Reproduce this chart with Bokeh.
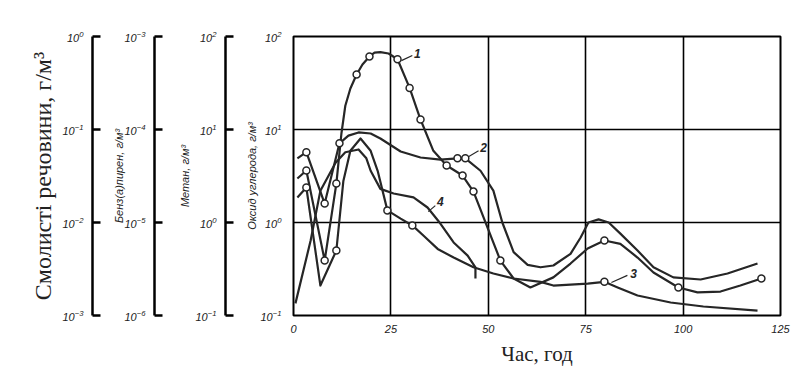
from bokeh.plotting import figure
from bokeh.layouts import row
from bokeh.models import Range1d, FixedTicker
from bokeh.core.properties import value
from bokeh.embed import file_html
from bokeh.resources import INLINE

# ---------------- data ----------------
x_ticks = [0, 25, 50, 75, 100, 125]

# curve 1 (big peak, markers)
c1_t = [1.0, 3.3, 8.0, 11.0, 12.3, 13.3, 14.6, 16.2, 17.7, 19.5, 20.8, 22.3, 24.4, 26.7, 29.8, 32.6, 35.9, 39.3, 43.4, 46.2, 53.1, 56.5, 60.8,
        66.7, 71.1, 75.5, 79.8, 83.9, 88.3, 92.4, 98.8, 103.7, 109.6, 114.7, 120.1]
c1_v = [2.97, 3.62, 0.39, 2.62, 9.06, 18, 27.6, 39, 50, 61, 67, 68, 65.6, 57, 28, 12.8, 5.9, 4.1, 3.2, 2.15, 0.39, 0.25, 0.2,
        0.257, 0.362, 0.525, 0.64, 0.59, 0.42, 0.29, 0.2, 0.177, 0.181, 0.21, 0.25]
c1_mt = [3.3, 8.0, 11.0, 16.2, 19.5, 26.7, 29.8, 32.6, 39.3, 43.4, 46.2, 53.1, 79.8, 98.8, 120.1]
c1_mv = [3.62, 0.39, 2.62, 39, 61, 57, 28, 12.8, 4.1, 3.2, 2.15, 0.39, 0.64, 0.2, 0.25]

# curve 2 (plateau, peak at ~79 h)
c2_t = [1.0, 3.3, 8.0, 11.8, 14.1, 16.7, 19.8, 22.3, 27.5, 32.6, 37.7, 42.1, 44.1, 48.0, 51.3, 53.6, 56.5, 60.1, 63.4,
        66.7, 71.1, 73.7, 75.7, 78.3, 80.9, 83.9, 88.3, 92.4, 97.5, 104.5, 111.4, 119.1]
c2_v = [4.9, 5.7, 1.6, 7.1, 8.6, 9.3, 9.06, 8.0, 5.8, 5.0, 4.75, 4.9, 4.9, 3.6, 2.2, 1.0, 0.48, 0.35, 0.33,
        0.345, 0.46, 0.69, 1.0, 1.08, 1.0, 0.76, 0.5, 0.33, 0.257, 0.244, 0.283, 0.362]
c2_mt = [3.3, 8.0, 11.8, 42.1, 44.1]
c2_mv = [5.7, 1.6, 7.1, 4.9, 4.9]

# curve 3 (long tail)
c3_t = [1.0, 3.3, 6.9, 11.0, 12.8, 14.6, 17.2, 19.8, 21.6, 24.1, 27.5, 30.5, 33.4, 37.0, 41.1, 46.2, 51.3, 56.5, 63.4,
        66.7, 75.5, 79.8, 83.2, 88.3, 96.8, 105.2, 119.1]
c3_v = [1.86, 2.38, 0.21, 0.5, 2.8, 5.9, 8.0, 5.9, 3.6, 1.35, 1.1, 0.93, 0.72, 0.52, 0.42, 0.33, 0.283, 0.25, 0.23,
        0.21, 0.22, 0.23, 0.2, 0.164, 0.138, 0.125, 0.113]
c3_mt = [3.3, 11.0, 24.1, 30.5, 79.8]
c3_mv = [2.38, 0.5, 1.35, 0.93, 0.23]

# curve 4 (no markers, ends at ~47 h)
c4_t = [0.5, 4.4, 6.9, 10.8, 13.3, 16.7, 18.7, 19.8, 22.3, 25.7, 30.8, 34.4, 37.7, 41.1, 44.7, 46.7, 46.7]
c4_v = [0.135, 0.64, 2.2, 4.4, 5.7, 6.1, 4.9, 3.6, 2.3, 2.05, 1.86, 1.45, 0.975, 0.61, 0.44, 0.33, 0.25]

# curve number labels and leader lines
lab_text = ["1", "2", "3", "4"]
lab_t = [31.8, 48.8, 87.3, 37.7]
lab_v = [65.6, 6.4, 0.283, 1.68]
lead_t0 = [27.7, 44.9, 81.6, 34.6]
lead_v0 = [55, 5.1, 0.226, 1.31]
lead_t1 = [30.5, 47.5, 85.7, 36.4]
lead_v1 = [62.5, 5.9, 0.27, 1.52]

# ranges of the four concentration scales
tar_range = (1e-3, 1e0)
benz_range = (1e-6, 1e-3)
meth_range = (1e-1, 1e2)
co_range = (1e-1, 1e2)

LINE = "#262626"
FONT = "Liberation Sans"
SERIF = "Liberation Serif"
FH = 279
BT = 36
BB = 55


def scale_fig(rng, label, border_left, label_font, label_size, label_style, label_standoff):
    f = figure(y_axis_type="log", y_range=Range1d(*rng), x_range=Range1d(0, 1),
               x_axis_location=None, frame_width=10, frame_height=FH,
               min_border_left=border_left, min_border_right=0,
               min_border_top=BT, min_border_bottom=BB,
               toolbar_location=None, output_backend="svg",
               outline_line_color=None)
    f.grid.visible = False
    ax = f.yaxis[0]
    ax.axis_line_width = 2.5
    ax.axis_line_color = "black"
    ax.major_tick_in = 8
    ax.major_tick_out = 0
    ax.major_tick_line_width = 2.5
    ax.major_tick_line_color = "black"
    ax.minor_tick_line_color = None
    ax.major_label_standoff = 5
    ax.major_label_text_font = FONT
    ax.major_label_text_font_style = "italic"
    ax.major_label_text_font_size = "11px"
    ax.major_label_text_color = "#222222"
    ax.axis_label = label
    ax.axis_label_text_font = label_font
    ax.axis_label_text_font_size = label_size
    ax.axis_label_text_font_style = label_style
    ax.axis_label_text_color = "#222222"
    ax.axis_label_standoff = label_standoff
    return f


f_tar = scale_fig(tar_range, "Смолисті речовини, г/м³", 92, SERIF, "24px", "normal", 3)
f_benz = scale_fig(benz_range, "Бенз(а)пирен, г/м³", 52, FONT, "11px", "italic", -4)
f_meth = scale_fig(meth_range, "Метан, г/м³", 61, FONT, "11px", "italic", 1)

p = figure(y_axis_type="log", y_range=Range1d(*co_range), x_range=Range1d(0, 125),
           frame_width=487, frame_height=FH,
           min_border_left=58, min_border_right=20,
           min_border_top=BT, min_border_bottom=BB,
           toolbar_location=None, output_backend="svg")
p.outline_line_color = "black"
p.outline_line_width = 2
p.xgrid.ticker = FixedTicker(ticks=x_ticks)
p.xaxis.ticker = FixedTicker(ticks=x_ticks)
for g in (p.xgrid[0], p.ygrid[0]):
    g.grid_line_color = "black"
    g.grid_line_width = 1.6
    g.grid_line_alpha = 1.0
p.ygrid.minor_grid_line_color = None

xa = p.xaxis[0]
xa.axis_line_color = None
xa.major_tick_out = 0
xa.major_tick_in = 0
xa.minor_tick_line_color = None
xa.major_label_standoff = 9
xa.major_label_text_font = FONT
xa.major_label_text_font_style = "italic"
xa.major_label_text_font_size = "11px"
xa.major_label_text_color = "#222222"
xa.axis_label = "Час, год"
xa.axis_label_text_font = SERIF
xa.axis_label_text_font_style = "normal"
xa.axis_label_text_font_size = "21px"
xa.axis_label_text_color = "#222222"
xa.axis_label_standoff = 6

ya = p.yaxis[0]
ya.axis_line_color = None
ya.major_tick_out = 0
ya.major_tick_in = 0
ya.minor_tick_line_color = None
ya.major_label_standoff = 8
ya.major_label_text_font = FONT
ya.major_label_text_font_style = "italic"
ya.major_label_text_font_size = "11px"
ya.major_label_text_color = "#222222"
ya.axis_label = "Оксид углерода, г/м³"
ya.axis_label_text_font = FONT
ya.axis_label_text_font_style = "italic"
ya.axis_label_text_font_size = "11px"
ya.axis_label_text_color = "#222222"
ya.axis_label_standoff = -1

for t, v in ((c1_t, c1_v), (c2_t, c2_v), (c3_t, c3_v), (c4_t, c4_v)):
    p.line(t, v, line_color=LINE, line_width=2.2, line_join="round")

for t, v in ((c1_mt, c1_mv), (c2_mt, c2_mv), (c3_mt, c3_mv)):
    p.scatter(t, v, marker="circle", size=7, fill_color="white",
              line_color=LINE, line_width=1.5)

p.segment(lead_t0, lead_v0, lead_t1, lead_v1, line_color=LINE, line_width=1.2)
p.text(lab_t, lab_v, text=lab_text, text_font=value(FONT), text_font_style="bold italic",
       text_font_size="12px", text_align="center", text_baseline="middle", text_color=LINE)

layout = row(f_tar, f_benz, f_meth, p)

open("out.html", "w").write(file_html(layout, INLINE))
